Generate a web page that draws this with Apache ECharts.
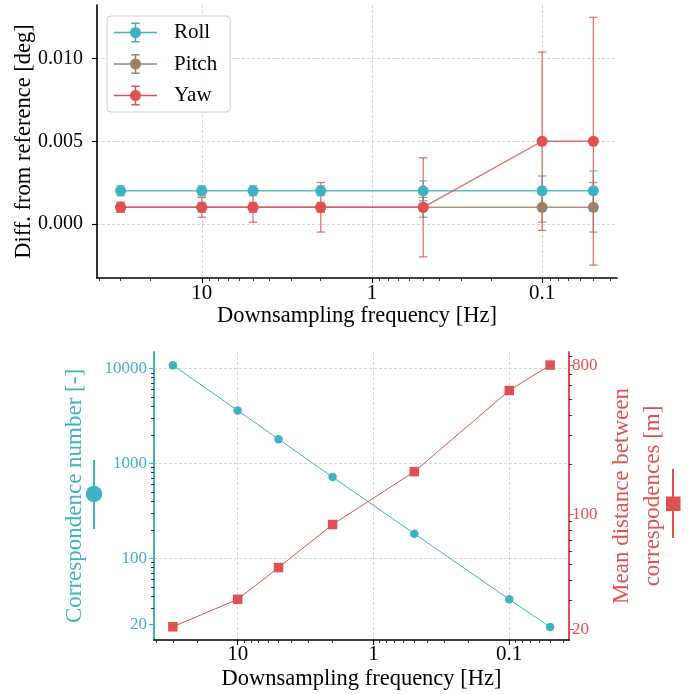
<!DOCTYPE html>
<html>
<head>
<meta charset="utf-8">
<script src="https://cdn.jsdelivr.net/npm/echarts@6/dist/echarts.min.js"></script>
<style>
html,body{margin:0;padding:0;background:#fff;}
#chart{width:700px;height:694px;}
</style>
</head>
<body>
<div id="chart"></div>
<script>
// ---------- data ----------
const freq = [30, 10, 5, 2, 0.5, 0.1, 0.05];
const roll = [0.002, 0.002, 0.002, 0.002, 0.002, 0.002, 0.002];
const rollErr = [0.0003, 0.0003, 0.0003, 0.0003, 0.0006, 0.0009, 0.0012];
const pitch = [0.001, 0.001, 0.001, 0.001, 0.001, 0.001, 0.001];
const pitchErr = [0.0003, 0.0003, 0.0003, 0.0003, 0.0006, 0.0009, 0.0015];
const yaw = [0.001, 0.001, 0.001, 0.001, 0.001, 0.005, 0.005];
const yawErr = [0.0003, 0.0006, 0.0009, 0.0015, 0.003, 0.0054, 0.0075];
const corrNumber = [10830, 3610, 1800, 718, 182, 37, 18.9];
const meanDist = [20.8, 30.5, 47.5, 86.6, 181, 561, 800];

// ---------- ticks ----------
const xMajorTicks = [10, 1, 0.1];
const xMinorTicks = [40, 30, 20, 9, 8, 7, 6, 5, 4, 3, 2, 0.9, 0.8, 0.7, 0.6, 0.5, 0.4, 0.3, 0.2, 0.09, 0.08, 0.07, 0.06, 0.05, 0.04];
const diffTicks = [0, 0.005, 0.010];
const corrTicks = [20, 100, 1000, 10000];
const corrGrid = [100, 1000, 10000];
const corrMinor = [30, 40, 50, 60, 70, 80, 90, 200, 300, 400, 500, 600, 700, 800, 900, 2000, 3000, 4000, 5000, 6000, 7000, 8000, 9000];
const distTicks = [20, 100, 800];
const distMinor = [30, 40, 50, 60, 70, 80, 90, 200, 300, 400, 500, 600, 700, 900];

// ---------- axis ranges ----------
const xRange = [0.0363, 41.3];
const diffRange = [-0.00328, 0.01325];
const corrRange = [13.8, 14900];
const distRange = [17.3, 960];

const TEAL = '#3eb1c3';
const BROWN = '#9c8169';
const RED = '#e05050';
const FONT = 'Liberation Serif';
const L = Math.log10;
const fmtPow = v => String(Number(Math.pow(10, v).toPrecision(6)));
const gridLine = {show: true, lineStyle: {type: [3, 2], color: '#cccccc', width: 0.8}};

function dataAxis(type, grid, range, extra) {
  return Object.assign({
    type: type, gridIndex: grid, min: range[0], max: range[1],
    axisLine: {show: true, onZero: false, lineStyle: {color: '#000', width: 1.6}},
    axisTick: {show: false}, axisLabel: {show: false}, splitLine: {show: false}
  }, extra || {});
}
function tickAxis(grid, range, ticks, extra) {
  const lv = ticks.map(L);
  return Object.assign({
    type: 'value', gridIndex: grid, min: L(range[0]), max: L(range[1]),
    axisLine: {show: false, onZero: false},
    axisTick: {show: true, customValues: lv, length: 3, lineStyle: {color: '#000', width: 0.8}},
    axisLabel: {show: false},
    splitLine: {show: false}
  }, extra || {});
}

const xAxes = [
  // top plot
  dataAxis('log', 0, xRange, {inverse: true}),
  tickAxis(0, xRange, xMajorTicks, {
    inverse: true, position: 'bottom',
    axisTick: {show: true, customValues: xMajorTicks.map(L), length: 5, lineStyle: {color: '#000', width: 1.1}},
    axisLabel: {show: true, customValues: xMajorTicks.map(L), formatter: fmtPow, margin: 5, fontSize: 21, fontFamily: FONT, color: '#000'},
    splitLine: gridLine,
    name: 'Downsampling frequency [Hz]', nameLocation: 'middle', nameGap: 25,
    nameTextStyle: {fontSize: 22.5, fontFamily: FONT, color: '#000'}
  }),
  tickAxis(0, xRange, xMinorTicks, {inverse: true, position: 'bottom'}),
  // bottom plot
  dataAxis('log', 1, xRange, {inverse: true}),
  tickAxis(1, xRange, xMajorTicks, {
    inverse: true, position: 'bottom',
    axisTick: {show: true, customValues: xMajorTicks.map(L), length: 5, lineStyle: {color: '#000', width: 1.1}},
    axisLabel: {show: true, customValues: xMajorTicks.map(L), formatter: fmtPow, margin: 4, fontSize: 21, fontFamily: FONT, color: '#000'},
    splitLine: gridLine,
    name: 'Downsampling frequency [Hz]', nameLocation: 'middle', nameGap: 28,
    nameTextStyle: {fontSize: 22.5, fontFamily: FONT, color: '#000'}
  }),
  tickAxis(1, xRange, xMinorTicks, {inverse: true, position: 'bottom'})
];

const yAxes = [
  // top plot
  {
    type: 'value', gridIndex: 0, min: diffRange[0], max: diffRange[1],
    axisLine: {show: true, onZero: false, lineStyle: {color: '#000', width: 1.6}},
    axisTick: {show: true, customValues: diffTicks, length: 5, lineStyle: {color: '#000', width: 1.1}},
    axisLabel: {show: true, customValues: diffTicks, formatter: v => v.toFixed(3), margin: 14, fontSize: 20, fontFamily: FONT, color: '#000'},
    splitLine: gridLine,
    name: 'Diff. from reference [deg]', nameLocation: 'middle', nameGap: 61, nameRotate: 90,
    nameMoveOverlap: false,
    nameTextStyle: {fontSize: 22.5, fontFamily: FONT, color: '#000'}
  },
  // bottom plot: data axes
  dataAxis('log', 1, corrRange, {position: 'left', axisLine: {show: true, onZero: false, lineStyle: {color: TEAL, width: 2}}}),
  dataAxis('log', 1, distRange, {position: 'right', axisLine: {show: true, onZero: false, lineStyle: {color: RED, width: 2}}}),
  // left labels
  tickAxis(1, corrRange, corrTicks, {
    position: 'left',
    axisTick: {show: true, customValues: corrTicks.map(L), length: 5, lineStyle: {color: TEAL, width: 1.1}},
    axisLabel: {show: true, customValues: corrTicks.map(L), formatter: fmtPow, margin: 7, fontSize: 17, fontFamily: FONT, color: TEAL},
    name: 'Correspondence number [-]', nameLocation: 'middle', nameGap: 68, nameRotate: 90,
    nameMoveOverlap: false,
    nameTextStyle: {fontSize: 23, fontFamily: FONT, color: TEAL}
  }),
  tickAxis(1, corrRange, corrMinor, {position: 'left'}),
  tickAxis(1, corrRange, corrGrid, {
    position: 'left',
    axisTick: {show: false, customValues: corrGrid.map(L)},
    splitLine: gridLine
  }),
  // right labels
  tickAxis(1, distRange, distTicks, {
    position: 'right',
    axisTick: {show: true, customValues: distTicks.map(L), length: 5, lineStyle: {color: RED, width: 1.1}},
    axisLabel: {show: true, customValues: distTicks.map(L), formatter: fmtPow, margin: 3, fontSize: 17, fontFamily: FONT, color: RED},
    name: 'Mean distance between\ncorrespodences [m]', nameLocation: 'middle', nameGap: 37, nameRotate: 90,
    nameMoveOverlap: false,
    nameTextStyle: {fontSize: 23, lineHeight: 31, fontFamily: FONT, color: RED}
  }),
  tickAxis(1, distRange, distMinor, {position: 'right'})
];

function errorBarSeries(name, vals, errs, color) {
  return {
    type: 'custom', name: name + ' error', xAxisIndex: 0, yAxisIndex: 0, z: 1,
    encode: {x: 0, y: 1},
    data: freq.map((f, i) => [f, vals[i], errs[i]]),
    renderItem: function (params, api) {
      const x = api.value(0), y = api.value(1), e = api.value(2);
      const lo = api.coord([x, y - e]);
      const hi = api.coord([x, y + e]);
      const hw = 4.2;
      const st = {stroke: color, lineWidth: 1.3, opacity: 0.8};
      return {type: 'group', children: [
        {type: 'line', shape: {x1: lo[0], y1: lo[1], x2: hi[0], y2: hi[1]}, style: st},
        {type: 'line', shape: {x1: lo[0] - hw, y1: lo[1], x2: lo[0] + hw, y2: lo[1]}, style: st},
        {type: 'line', shape: {x1: hi[0] - hw, y1: hi[1], x2: hi[0] + hw, y2: hi[1]}, style: st}
      ]};
    }
  };
}
function attitudeSeries(name, vals, color) {
  return {
    type: 'line', name: name, xAxisIndex: 0, yAxisIndex: 0, z: 3,
    data: freq.map((f, i) => [f, vals[i]]),
    symbol: 'circle', symbolSize: 11,
    itemStyle: {color: color},
    lineStyle: {color: color, width: 1.4, opacity: 0.85},
    emphasis: {disabled: true}
  };
}

// legend glyph: line + errorbar + marker (extra moveTo widens box for text gap)
const legendIcon = 'path://M0 9.25H43V10.75H0Z M20.75 1H22.25V19H20.75Z M17.3 0H25.7V1.5H17.3Z M17.3 18.5H25.7V20H17.3Z M16 10A5.5 5.5 0 1 1 27 10A5.5 5.5 0 1 1 16 10Z M55 20';

const option = {
  animation: false,
  backgroundColor: '#ffffff',
  grid: [
    {left: 97, top: 5, width: 520, height: 273, outerBoundsMode: 'none', containLabel: false},
    {left: 154, top: 352, width: 415, height: 288, outerBoundsMode: 'none', containLabel: false}
  ],
  legend: {
    left: 107, top: 16, orient: 'vertical',
    itemWidth: 55, itemHeight: 20, itemGap: 10.5,
    padding: [6, 13, 6, 7],
    borderColor: '#cccccc', borderWidth: 1, borderRadius: 4,
    backgroundColor: 'rgba(255,255,255,0.85)',
    symbolKeepAspect: false,
    selectedMode: false,
    textStyle: {fontSize: 21, fontFamily: FONT, color: '#000'},
    data: [
      {name: 'Roll', icon: legendIcon},
      {name: 'Pitch', icon: legendIcon},
      {name: 'Yaw', icon: legendIcon}
    ]
  },
  xAxis: xAxes,
  yAxis: yAxes,
  graphic: [
    {type: 'line', shape: {x1: 94, y1: 460, x2: 94, y2: 529}, style: {stroke: TEAL, lineWidth: 2}},
    {type: 'circle', shape: {cx: 94, cy: 494, r: 8.3}, style: {fill: TEAL}},
    {type: 'line', shape: {x1: 673, y1: 469, x2: 673, y2: 538}, style: {stroke: RED, lineWidth: 2}},
    {type: 'rect', shape: {x: 666, y: 496.5, width: 14.5, height: 14.5}, style: {fill: RED}}
  ],
  series: [
    errorBarSeries('Roll', roll, rollErr, TEAL),
    errorBarSeries('Pitch', pitch, pitchErr, BROWN),
    errorBarSeries('Yaw', yaw, yawErr, RED),
    attitudeSeries('Roll', roll, TEAL),
    attitudeSeries('Pitch', pitch, BROWN),
    attitudeSeries('Yaw', yaw, RED),
    {
      type: 'line', name: 'Correspondence number', xAxisIndex: 3, yAxisIndex: 1,
      data: freq.map((f, i) => [f, corrNumber[i]]),
      symbol: 'circle', symbolSize: 8.5,
      itemStyle: {color: TEAL}, lineStyle: {color: TEAL, width: 1},
      emphasis: {disabled: true}
    },
    {
      type: 'line', name: 'Mean distance', xAxisIndex: 3, yAxisIndex: 2,
      data: freq.map((f, i) => [f, meanDist[i]]),
      symbol: 'rect', symbolSize: 9.5,
      itemStyle: {color: RED}, lineStyle: {color: RED, width: 1},
      emphasis: {disabled: true}
    }
  ]
};

const chart = echarts.init(document.getElementById('chart'), null, {renderer: 'canvas'});
chart.setOption(option);
</script>
</body>
</html>
